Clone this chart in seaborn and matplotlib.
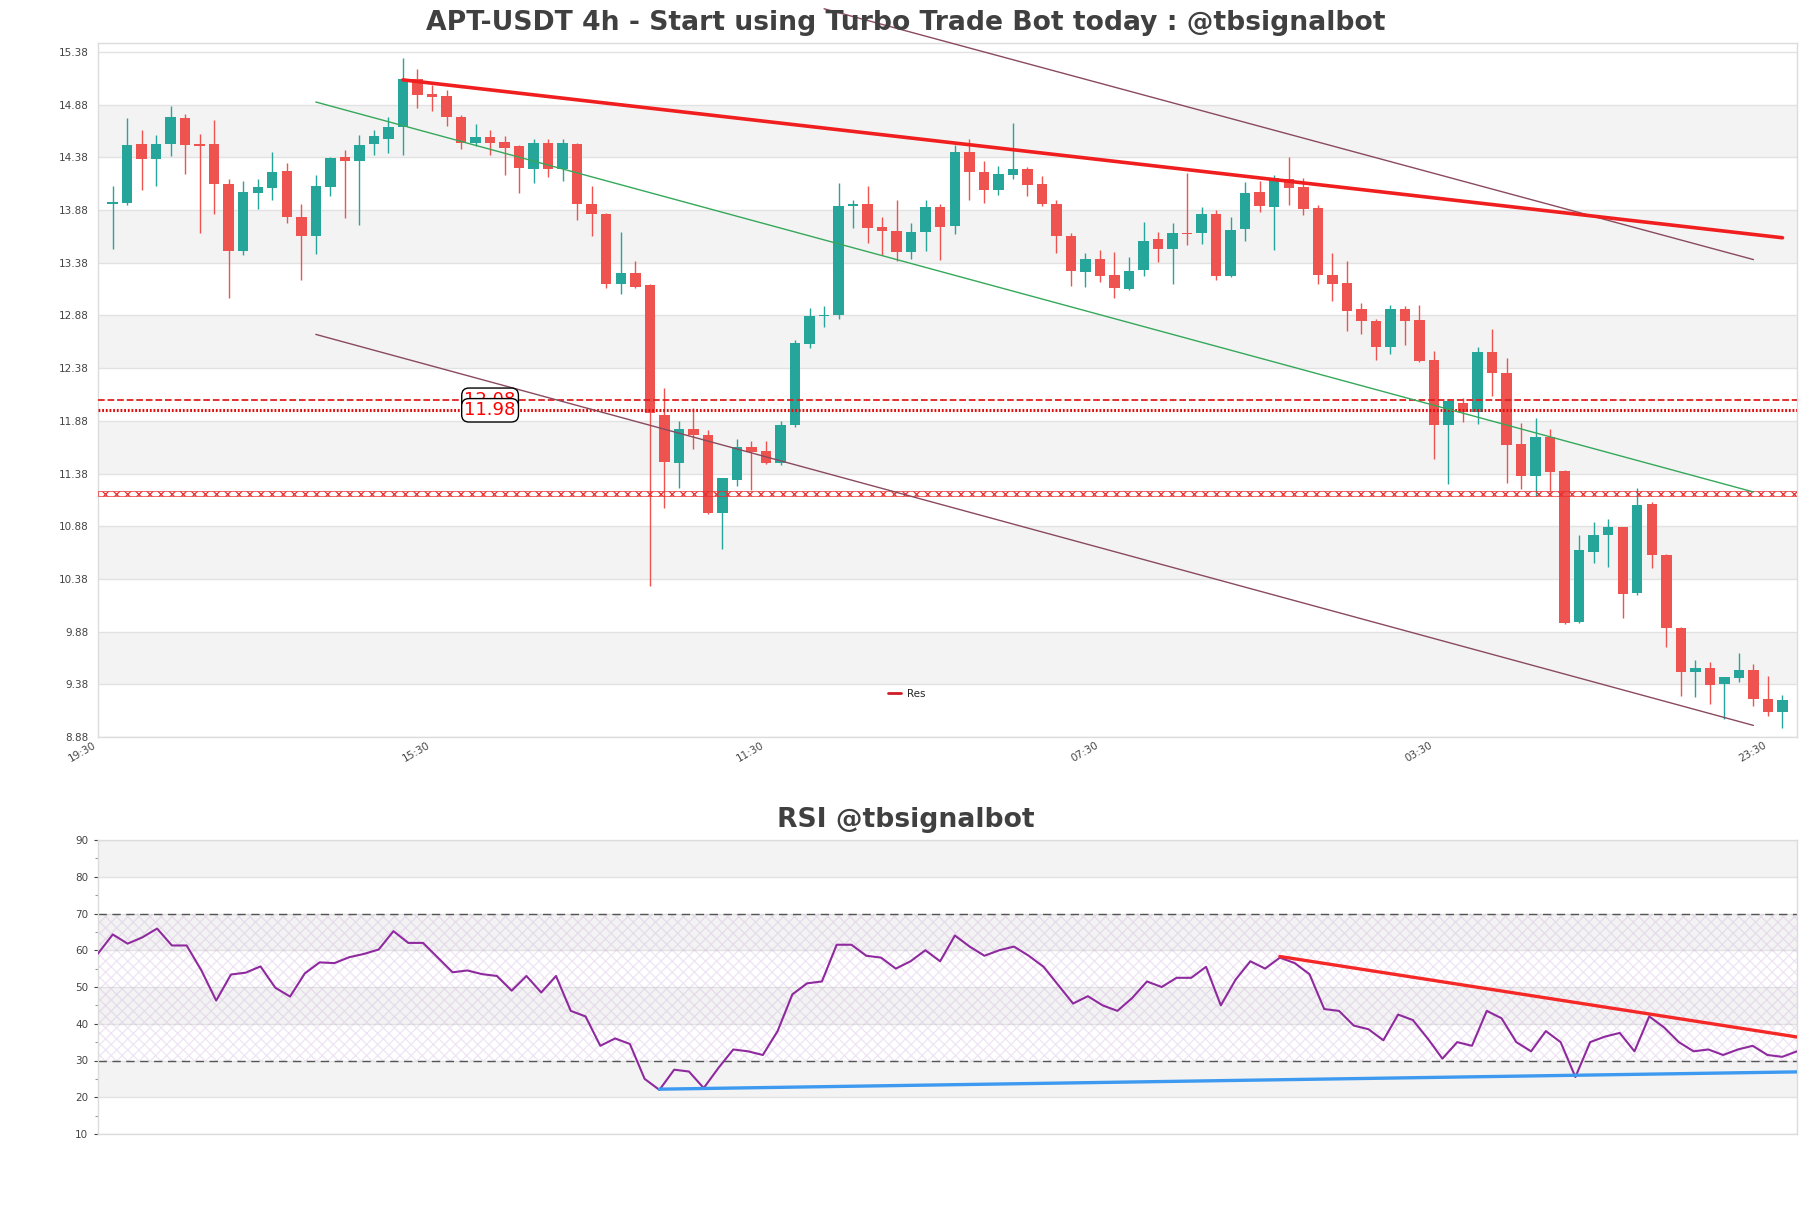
import numpy as np
import pandas as pd
import matplotlib
matplotlib.use("Agg")
import matplotlib.pyplot as plt
import seaborn as sns

# ---------------- data ----------------
opens = [13.94, 13.95, 14.51, 14.36, 14.51, 14.75, 14.50, 14.51, 14.13, 13.49,
         14.04, 14.09, 14.25, 13.81, 13.63, 14.10, 14.38, 14.35, 14.51, 14.55,
         14.67, 15.12, 14.98, 14.96, 14.76, 14.52, 14.57, 14.53, 14.49, 14.27,
         14.52, 14.27, 14.51, 13.94, 13.84, 13.18, 13.28, 13.17, 11.94, 11.48,
         11.80, 11.75, 11.01, 11.32, 11.63, 11.59, 11.48, 11.84, 12.61, 12.87,
         12.88, 13.92, 13.94, 13.72, 13.68, 13.48, 13.67, 13.91, 13.73, 14.43,
         14.24, 14.07, 14.21, 14.27, 14.13, 13.94, 13.63, 13.29, 13.42, 13.26,
         13.13, 13.31, 13.61, 13.51, 13.66, 13.66, 13.84, 13.25, 13.70, 14.05,
         13.91, 14.17, 14.10, 13.90, 13.26, 13.19, 12.94, 12.83, 12.58, 12.94,
         12.84, 12.46, 11.84, 12.05, 11.96, 12.53, 12.33, 11.66, 11.36, 11.73,
         11.40, 9.97, 10.64, 10.80, 10.87, 10.25, 11.09, 10.61, 9.91, 9.50,
         9.53, 9.38, 9.44, 9.52, 9.24, 9.12]
highs = [14.11, 14.75, 14.64, 14.59, 14.87, 14.79, 14.60, 14.73, 14.17, 14.16,
         14.17, 14.43, 14.33, 13.94, 14.21, 14.38, 14.45, 14.59, 14.64, 14.76,
         15.32, 15.22, 15.07, 15.02, 14.78, 14.70, 14.64, 14.58, 14.50, 14.55,
         14.55, 14.55, 14.52, 14.11, 13.85, 13.67, 13.40, 13.18, 12.19, 11.88,
         12.00, 11.79, 11.34, 11.71, 11.69, 11.69, 11.88, 12.65, 12.95, 12.97,
         14.14, 13.98, 14.11, 13.81, 13.98, 13.76, 13.98, 13.94, 14.50, 14.55,
         14.35, 14.30, 14.71, 14.29, 14.20, 13.98, 13.66, 13.47, 13.50, 13.48,
         13.43, 13.77, 13.67, 13.76, 14.23, 13.91, 13.88, 13.81, 14.15, 14.16,
         14.21, 14.38, 14.18, 13.93, 13.47, 13.40, 13.00, 12.85, 12.98, 12.97,
         12.98, 12.54, 12.09, 12.10, 12.58, 12.75, 12.48, 11.86, 11.91, 11.80,
         11.41, 10.80, 10.92, 10.95, 10.87, 11.24, 11.11, 10.62, 9.92, 9.61,
         9.59, 9.45, 9.68, 9.57, 9.46, 9.28]
lows = [13.51, 13.93, 14.07, 14.11, 14.39, 14.22, 13.66, 13.84, 13.05, 13.45,
        13.89, 13.98, 13.76, 13.22, 13.46, 14.01, 13.80, 13.74, 14.40, 14.42,
        14.40, 14.85, 14.82, 14.68, 14.46, 14.49, 14.40, 14.21, 14.04, 14.14,
        14.19, 14.16, 13.79, 13.63, 13.14, 13.08, 13.14, 10.31, 11.05, 11.24,
        11.61, 11.00, 10.66, 11.26, 11.22, 11.47, 11.46, 11.82, 12.57, 12.77,
        12.85, 13.71, 13.57, 13.45, 13.40, 13.42, 13.49, 13.41, 13.65, 13.98,
        13.95, 14.02, 14.17, 14.01, 13.92, 13.47, 13.16, 13.15, 13.20, 13.05,
        13.12, 13.25, 13.39, 13.18, 13.55, 13.56, 13.22, 13.24, 13.59, 13.86,
        13.50, 13.93, 13.83, 13.18, 13.02, 12.73, 12.70, 12.46, 12.51, 12.60,
        12.44, 11.52, 11.28, 11.87, 11.85, 12.12, 11.29, 11.23, 11.17, 11.20,
        9.95, 9.96, 10.53, 10.49, 10.01, 10.23, 10.48, 9.73, 9.27, 9.26,
        9.19, 9.05, 9.40, 9.17, 9.08, 8.97]
closes = [13.96, 14.50, 14.36, 14.51, 14.76, 14.50, 14.49, 14.13, 13.49, 14.05,
          14.10, 14.24, 13.81, 13.63, 14.11, 14.37, 14.35, 14.50, 14.58, 14.67,
          15.12, 14.97, 14.95, 14.76, 14.52, 14.57, 14.52, 14.47, 14.28, 14.52,
          14.27, 14.52, 13.94, 13.84, 13.18, 13.28, 13.15, 11.95, 11.49, 11.80,
          11.75, 11.01, 11.34, 11.63, 11.58, 11.48, 11.84, 12.62, 12.87, 12.88,
          13.92, 13.94, 13.71, 13.68, 13.48, 13.67, 13.91, 13.72, 14.43, 14.24,
          14.07, 14.22, 14.27, 14.12, 13.94, 13.63, 13.30, 13.42, 13.25, 13.14,
          13.30, 13.59, 13.51, 13.66, 13.65, 13.84, 13.25, 13.69, 14.04, 13.92,
          14.18, 14.09, 13.89, 13.26, 13.18, 12.92, 12.83, 12.58, 12.94, 12.83,
          12.45, 11.84, 12.07, 11.96, 12.53, 12.33, 11.65, 11.36, 11.73, 11.39,
          9.96, 10.65, 10.80, 10.87, 10.24, 11.08, 10.61, 9.91, 9.50, 9.53,
          9.37, 9.45, 9.52, 9.24, 9.12, 9.23]

rsi = [59.1, 64.3, 61.8, 63.5, 65.9, 61.3, 61.3, 54.5, 46.3, 53.4,
       53.9, 55.6, 49.8, 47.4, 53.7, 56.7, 56.5, 58.1, 59.0, 60.2,
       65.2, 62.0, 62.0, 58.0, 54.0, 54.5, 53.5, 53.0, 49.0, 53.0,
       48.5, 53.0, 43.5, 42.0, 34.0, 36.0, 34.5, 25.0, 22.0, 27.5,
       27.0, 22.5, 28.0, 33.0, 32.5, 31.5, 38.0, 48.0, 51.0, 51.5,
       61.5, 61.5, 58.5, 58.0, 55.0, 57.0, 60.0, 57.0, 64.0, 61.0,
       58.5, 60.0, 61.0, 58.5, 55.5, 50.5, 45.5, 47.5, 45.0, 43.5,
       47.0, 51.5, 50.0, 52.5, 52.5, 55.5, 45.0, 52.0, 57.0, 55.0,
       58.0, 56.5, 53.5, 44.0, 43.5, 39.5, 38.5, 35.5, 42.5, 41.0,
       36.0, 30.5, 35.0, 34.0, 43.5, 41.5, 35.0, 32.5, 38.0, 35.0,
       25.5, 35.0, 36.5, 37.5, 32.5, 42.0, 39.0, 35.0, 32.5, 33.0,
       31.5, 33.0, 34.0, 31.5, 31.0, 32.5]

tick_pos = [-1, 22, 45, 68, 91, 114]
tick_labels = ["19:30", "15:30", "11:30", "07:30", "03:30", "23:30"]
price_ticks = [8.88, 9.38, 9.88, 10.38, 10.88, 11.38, 11.88, 12.38, 12.88,
               13.38, 13.88, 14.38, 14.88, 15.38]
rsi_ticks = [10, 20, 30, 40, 50, 60, 70, 80, 90]

level_dashed = 12.08
level_dotted = 11.98
zone_low, zone_high = 11.163, 11.216

res_x, res_y = [20, 115], [15.115, 13.617]
green_x, green_y = [14, 113], [14.905, 11.205]
brown_up_x, brown_up_y = [49, 113], [15.79, 13.41]
brown_lo_x, brown_lo_y = [14, 113], [12.70, 8.99]
rsi_res_x, rsi_res_y = [80, 115], [58.3, 36.4]
rsi_sup_x, rsi_sup_y = [38, 115], [22.2, 26.9]

# ---------------- style ----------------
sns.set_theme(style="white")
plt.rcParams["font.family"] = ["DejaVu Sans"]
plt.rcParams["hatch.linewidth"] = 0.9
TXT = "#444444"
UP, DN = "#26a69a", "#ef5350"
BAND = "#f3f3f3"
SPINE = "#dcdcdc"

W, H = 1811, 1208
fig = plt.figure(figsize=(W / 100, H / 100), dpi=100)
fig.patch.set_facecolor("white")


def fx(px):
    return px / W


def fy(py):
    return 1 - py / H


ax = fig.add_axes([fx(98), fy(737), fx(1797 - 98), (737 - 43) / H])
ax2 = fig.add_axes([fx(98), fy(1134), fx(1797 - 98), (1134 - 840) / H])

df = pd.DataFrame({"open": opens, "high": highs, "low": lows, "close": closes})
df["idx"] = np.arange(len(df))
df["up"] = df["close"] >= df["open"]
df["color"] = np.where(df["up"], UP, DN)

# ---------------- main price chart ----------------
ax.set_xlim(-1, 116)
ax.set_ylim(8.88, 15.465)
for i in range(len(price_ticks) - 1):
    if i % 2 == 1:
        ax.axhspan(price_ticks[i], price_ticks[i + 1], color=BAND, lw=0, zorder=0)
for t in price_ticks:
    ax.axhline(t, color="#e2e2e2", lw=1, zorder=0.5)

ax.vlines(df["idx"], df["low"], df["high"], colors=df["color"], lw=1, zorder=2)
body = (df["close"] - df["open"]).abs().clip(lower=0.012)
ax.bar(df["idx"], body, bottom=df[["open", "close"]].min(axis=1), width=0.72,
       color=df["color"], lw=0, zorder=3)

# horizontal levels
ax.axhline(level_dashed, color="#e02020", lw=1.3, ls="--", zorder=4)
ax.axhline(level_dotted, color="#e01010", lw=2.2, ls=(0, (0.6, 0.6)), zorder=4)
ax.axhspan(zone_low, zone_high, facecolor="none", edgecolor="#e83030",
           hatch="xxx", lw=0.5, zorder=4)

# trend lines
sns.lineplot(x=brown_up_x, y=brown_up_y, ax=ax, color="#8a4a5e", lw=1,
             zorder=4, clip_on=False)
sns.lineplot(x=brown_lo_x, y=brown_lo_y, ax=ax, color="#8a4a5e", lw=1, zorder=4)
sns.lineplot(x=green_x, y=green_y, ax=ax, color="#35a85a", lw=1, zorder=4)
sns.lineplot(x=res_x, y=res_y, ax=ax, color="#f01e1e", lw=2.6, zorder=5,
             label="Res")

bbox = dict(boxstyle="round,pad=0.15,rounding_size=0.4", fc="white",
            ec="black", lw=1)
ax.text(26, level_dashed, f"{level_dashed:.2f}", color="red", fontsize=13,
        ha="center", va="center", bbox=bbox, zorder=6)
ax.text(26, level_dotted, f"{level_dotted:.2f}", color="red", fontsize=13,
        ha="center", va="center", bbox=bbox, zorder=7)

leg = ax.legend(loc="center", bbox_to_anchor=(0.476, 0.062), frameon=False,
                fontsize=7.5, handlelength=1.2, handletextpad=0.6)
for h in leg.get_lines():
    h.set_linewidth(2)
    h.set_color("#d01c24")

ax.set_yticks(price_ticks)
ax.set_yticklabels([f"{t:.2f}" for t in price_ticks])
ax.set_xticks(tick_pos)
ax.set_xticklabels(tick_labels, rotation=30, ha="right")
ax.tick_params(axis="both", labelsize=7.5, colors=TXT, length=0, pad=7)
ax.tick_params(axis="x", pad=2)
for s in ax.spines.values():
    s.set_color(SPINE)
    s.set_linewidth(1)
ax.set_xlabel("")
ax.set_ylabel("")

# ---------------- RSI chart ----------------
x_rsi = np.arange(len(rsi))
ax2.set_xlim(0, len(rsi) - 1)
ax2.set_ylim(10, 90)
for lo, hi in [(20, 30), (40, 50), (60, 70), (80, 90)]:
    ax2.axhspan(lo, hi, color=BAND, lw=0, zorder=0)
for t in rsi_ticks:
    ax2.axhline(t, color="#e2e2e2", lw=1, zorder=0.5)
ax2.fill_between([0, len(rsi) - 1], 30, 70, facecolor="none",
                 edgecolor=(0.78, 0.62, 0.84, 0.28), hatch="xxx", lw=0,
                 zorder=1)
ax2.axhline(70, color="#555555", lw=1, ls=(0, (6, 4)), zorder=2)
ax2.axhline(30, color="#555555", lw=1, ls=(0, (6, 4)), zorder=2)
sns.lineplot(x=x_rsi, y=rsi, ax=ax2, color="#8e2a9e", lw=1.5, zorder=3)
sns.lineplot(x=rsi_res_x, y=rsi_res_y, ax=ax2, color="#f52828", lw=2.4, zorder=4)
sns.lineplot(x=rsi_sup_x, y=rsi_sup_y, ax=ax2, color="#3d9af0", lw=2.4, zorder=4)

ax2.set_yticks(rsi_ticks)
ax2.set_yticks(list(range(15, 90, 10)), minor=True)
ax2.set_xticks([])
ax2.tick_params(axis="y", which="major", labelsize=7.5, colors=TXT, length=3,
                width=0.8, pad=4, left=True)
ax2.tick_params(axis="y", which="minor", length=2, width=0.8, colors="#999999",
                left=True)
for s in ax2.spines.values():
    s.set_color(SPINE)
    s.set_linewidth(1)
ax2.set_xlabel("")
ax2.set_ylabel("")

# ---------------- titles ----------------
fig.text(0.5, fy(23), "APT-USDT 4h - Start using Turbo Trade Bot today : @tbsignalbot",
         ha="center", va="center", fontsize=19.2, fontweight="bold", color="#404040")
fig.text(0.5, fy(820), "RSI @tbsignalbot", ha="center", va="center",
         fontsize=19.2, fontweight="bold", color="#404040")

fig.savefig("out.png", dpi=100, facecolor="white")
